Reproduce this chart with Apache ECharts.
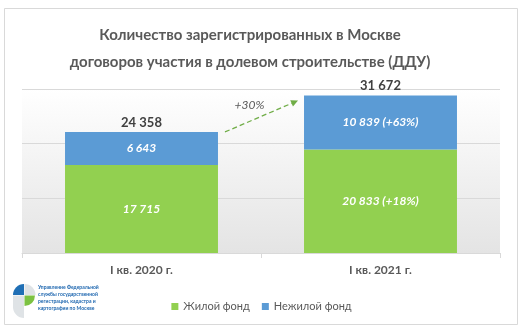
<!DOCTYPE html>
<html>
<head>
<meta charset="utf-8">
<script src="https://cdn.jsdelivr.net/npm/echarts@6/dist/echarts.min.js"></script>
<style>
html,body{margin:0;padding:0;background:#fff;}
#chart{width:523px;height:331px;}
</style>
</head>
<body>
<div id="chart"></div>
<script>
// ---- data ----
const categories = ['I кв. 2020 г.', 'I кв. 2021 г.'];
const residential = [17715, 20833];        // Жилой фонд
const nonResidential = [6643, 10839];      // Нежилой фонд
const residentialGrowth = ['', '+18%'];
const nonResidentialGrowth = ['', '+63%'];
const totals = [24358, 31672];
const totalGrowth = '+30%';
const seriesNames = ['Жилой фонд', 'Нежилой фонд'];
const yTicks = [0, 11000, 22000, 33000];
const titleLines = ['Количество зарегистрированных в Москве', 'договоров участия в долевом строительстве (ДДУ)'];
const logoLines = ['Управление Федеральной', 'службы государственной', 'регистрации, кадастра и', 'картографии по Москве'];

function fmt(n) { return String(n).replace(/\B(?=(\d{3})+(?!\d))/g, ' '); }
function withGrowth(v, g) { return g ? fmt(v) + ' (' + g + ')' : fmt(v); }

const FONT = 'Lato, "Open Sans", sans-serif';
const chart = echarts.init(document.getElementById('chart'), null, { renderer: 'canvas' });

const option = {
  animation: false,
  backgroundColor: '#fff',
  textStyle: { fontFamily: FONT },
  legend: {
    data: seriesNames,
    bottom: 14, left: 'center',
    icon: 'rect', itemWidth: 7, itemHeight: 7, itemGap: 12,
    textStyle: { fontFamily: FONT, fontSize: 11, color: '#595959' }
  },
  grid: {
    left: 22, right: 23, top: 89, bottom: 78,
    show: true, borderWidth: 0,
    backgroundColor: { type: 'linear', x: 0, y: 0, x2: 0, y2: 1,
      colorStops: [{ offset: 0, color: '#ffffff' }, { offset: 1, color: '#e4e4e4' }] }
  },
  xAxis: {
    type: 'category', data: categories,
    axisLine: { lineStyle: { color: '#d9d9d9', width: 1 } },
    axisTick: { show: true, length: 5, lineStyle: { color: '#d9d9d9' } },
    axisLabel: { fontFamily: FONT, fontSize: 12, fontWeight: 'bold', color: '#595959', margin: 11 }
  },
  yAxis: {
    type: 'value', min: yTicks[0], max: yTicks[yTicks.length - 1], interval: yTicks[1] - yTicks[0],
    axisLabel: { show: false }, axisLine: { show: false }, axisTick: { show: false },
    splitLine: { lineStyle: { color: '#d9d9d9', width: 1 } }
  },
  series: [
    {
      name: seriesNames[0], type: 'bar', stack: 'total', barWidth: '64%',
      data: residential,
      itemStyle: { color: '#92d050' },
      label: { show: true, position: 'inside', color: '#fff', fontStyle: 'italic', fontWeight: 'bold', fontSize: 12,
        fontFamily: FONT,
        formatter: p => withGrowth(p.value, residentialGrowth[p.dataIndex]) }
    },
    {
      name: seriesNames[1], type: 'bar', stack: 'total', barWidth: '64%',
      data: nonResidential,
      itemStyle: { color: '#5b9bd5' },
      label: { show: true, position: 'inside', color: '#fff', fontStyle: 'italic', fontWeight: 'bold', fontSize: 12,
        fontFamily: FONT,
        formatter: p => withGrowth(p.value, nonResidentialGrowth[p.dataIndex]) }
    },
    {
      name: 'total', type: 'bar', barWidth: '64%', barGap: '-100%', z: 0,
      data: totals,
      itemStyle: { color: 'rgba(0,0,0,0)' },
      emphasis: { disabled: true }, silent: true,
      label: { show: true, position: 'top', distance: 3, color: '#404040', fontWeight: 'bold', fontSize: 13,
        fontFamily: FONT, formatter: p => fmt(p.value) }
    }
  ]
};
chart.setOption(option);

// Arrow between bar tops, positioned through the chart's own scales
const p0 = chart.convertToPixel({ seriesIndex: 0 }, [0, totals[0]]);
const p1 = chart.convertToPixel({ seriesIndex: 0 }, [1, totals[1]]);
const band = p1[0] - p0[0];
const half = band * 0.32;
const x1 = p0[0] + half + 7, y1 = p0[1];
const x2 = p1[0] - half - 6, y2 = p1[1] + 5;
const ang = Math.atan2(y2 - y1, x2 - x1);
const ah = 7, aw = 3.5;
const bx = x2 - ah * Math.cos(ang), by = y2 - ah * Math.sin(ang);
const nx = -Math.sin(ang), ny = Math.cos(ang);

chart.setOption({
  graphic: [
    { type: 'rect', shape: { x: 4.5, y: 8.5, width: 513, height: 316 }, style: { fill: 'none', stroke: '#d9d9d9', lineWidth: 1 }, z: -10, silent: true },
    { type: 'text', x: 250, y: 35, style: { text: titleLines[0], fill: '#595959', fontFamily: FONT, fontSize: 15, fontWeight: 'bold', align: 'center', verticalAlign: 'middle' }, silent: true },
    { type: 'text', x: 250, y: 62, style: { text: titleLines[1], fill: '#595959', fontFamily: FONT, fontSize: 15, fontWeight: 'bold', align: 'center', verticalAlign: 'middle' }, silent: true },
    { type: 'line', shape: { x1: x1, y1: y1, x2: bx, y2: by }, style: { stroke: '#70ad47', lineWidth: 1.3, lineDash: [5, 3] }, silent: true },
    { type: 'polygon', shape: { points: [[x2, y2], [bx + nx * aw, by + ny * aw], [bx - nx * aw, by - ny * aw]] }, style: { fill: '#70ad47' }, silent: true },
    { type: 'text', x: (x1 + x2) / 2 - 12, y: (y1 + y2) / 2 - 11, style: { text: totalGrowth, fill: '#595959', fontFamily: FONT, fontSize: 12, fontStyle: 'italic', align: 'center', verticalAlign: 'middle' }, silent: true },
    // logo
    { type: 'sector', shape: { cx: 24, cy: 295, r: 11, r0: 0, startAngle: Math.PI, endAngle: Math.PI * 1.5 }, style: { fill: '#1f6fb5' }, silent: true },
    { type: 'sector', shape: { cx: 24.5, cy: 295, r: 11, r0: 0, startAngle: Math.PI * 1.5, endAngle: Math.PI * 2 }, style: { fill: '#dfe3e6' }, silent: true },
    { type: 'sector', shape: { cx: 24.5, cy: 295.5, r: 10.5, r0: 0, startAngle: 0, endAngle: Math.PI * 0.5 }, style: { fill: '#7cc242' }, silent: true },
    { type: 'rect', shape: { x: 13, y: 295.5, width: 11, height: 12 }, style: { fill: '#dfe3e6' }, silent: true },
    { type: 'sector', shape: { cx: 24, cy: 307, r: 11, r0: 0, startAngle: Math.PI * 0.5, endAngle: Math.PI }, style: { fill: '#dfe3e6' }, silent: true },
    { type: 'text', x: 38, y: 284, style: { text: logoLines.join('\n'), fill: '#2068b0', fontFamily: FONT, fontSize: 5, fontWeight: 'bold', lineHeight: 7 }, silent: true }
  ]
});
</script>
</body>
</html>
